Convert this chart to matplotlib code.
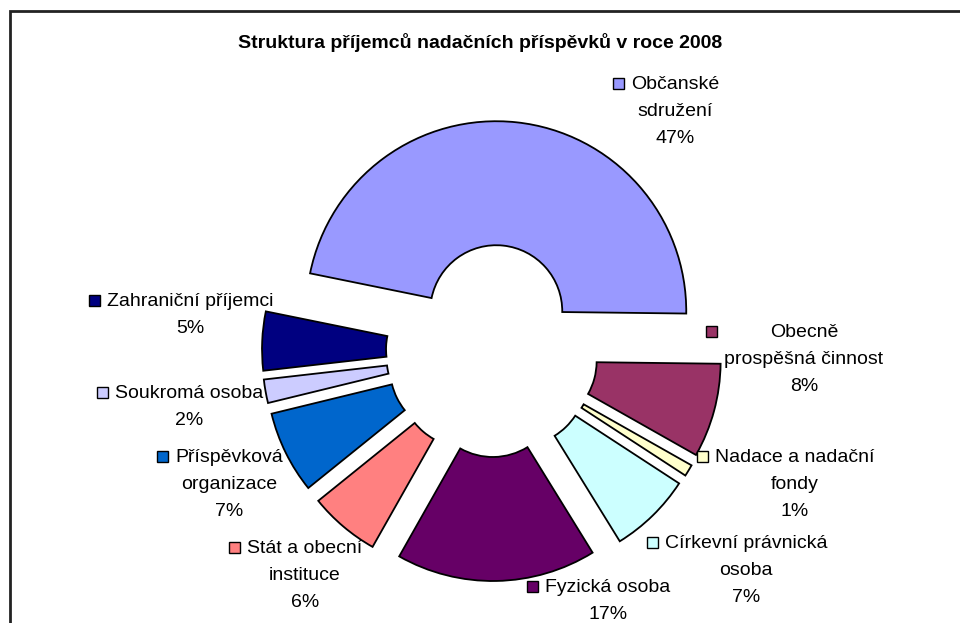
"""Exploded doughnut chart: recipients of foundation grants in 2008."""
import matplotlib
matplotlib.use("Agg")
import matplotlib.pyplot as plt
from matplotlib.patches import Rectangle

plt.rcParams["font.family"] = ["Liberation Sans", "DejaVu Sans"]

# data (clockwise from the big top slice)
categories = [
    "Občanské\nsdružení",
    "Obecně\nprospěšná činnost",
    "Nadace a nadační\nfondy",
    "Církevní právnická\nosoba",
    "Fyzická osoba",
    "Stát a obecní\ninstituce",
    "Příspěvková\norganizace",
    "Soukromá osoba",
    "Zahraniční příjemci",
]
shares = [47, 8, 1, 7, 17, 6, 7, 2, 5]
colors = ["#9999FF", "#993366", "#FFFFCC", "#CCFFFF", "#660066",
          "#FF8080", "#0066CC", "#CCCCFF", "#000080"]
title = "Struktura příjemců nadačních příspěvků v roce 2008"

# layout in image pixels (x, first baseline y) for each label block
label_pos = [(675, 89), (804, 337), (795, 462), (746, 548), (608, 592),
             (305, 553), (229, 462), (189, 398), (190, 306)]

W, H = 960, 623
cx, cy = 492, 351          # doughnut centre (pixels, from top)
R = 190.0                  # outer radius in pixels
hole = 66.0                # inner radius in pixels
shift = 40.0               # explode distance in pixels
line_h = 27                # label line spacing

fig = plt.figure(figsize=(W / 100, H / 100), dpi=100)
ax = fig.add_axes([0, 0, 1, 1])
ax.pie(shares, colors=colors, startangle=168.5, counterclock=False,
       explode=[shift / R] * len(shares),
       wedgeprops=dict(width=(R - hole) / R, edgecolor="black", linewidth=1.3))
ax.set_aspect("auto")
ax.set_xlim(-cx / R, (W - cx) / R)
ax.set_ylim(-(H - cy) / R, cy / R)
ax.axis("off")


def fx(x):
    return x / W


def fy(y):
    return 1 - y / H


# outer chart border (goes past the right / bottom edge)
fig.patches.append(Rectangle((fx(10), fy(H + 20)), 1.2, fy(11) - fy(H + 20),
                             transform=fig.transFigure, fill=False,
                             edgecolor="#222222", linewidth=2))

fig.text(fx(480), fy(48), title, ha="center", va="baseline",
         fontsize=14, fontweight="bold")

renderer = fig.canvas.get_renderer()
for name, val, col, (x, y) in zip(categories, shares, colors, label_pos):
    lines = name.split("\n") + [f"{val}%"]
    left = x
    for i, ln in enumerate(lines):
        t = fig.text(fx(x), fy(y + i * line_h), ln, ha="center", va="baseline",
                     fontsize=14)
        bb = t.get_window_extent(renderer)
        left = min(left, bb.x0)
    # legend key square left of the block, sitting on the first baseline
    sz = 11
    fig.patches.append(Rectangle((fx(left - 7 - sz), fy(y)), sz / W, sz / H,
                                 transform=fig.transFigure, facecolor=col,
                                 edgecolor="black", linewidth=1))

fig.savefig("out.png", dpi=100)
